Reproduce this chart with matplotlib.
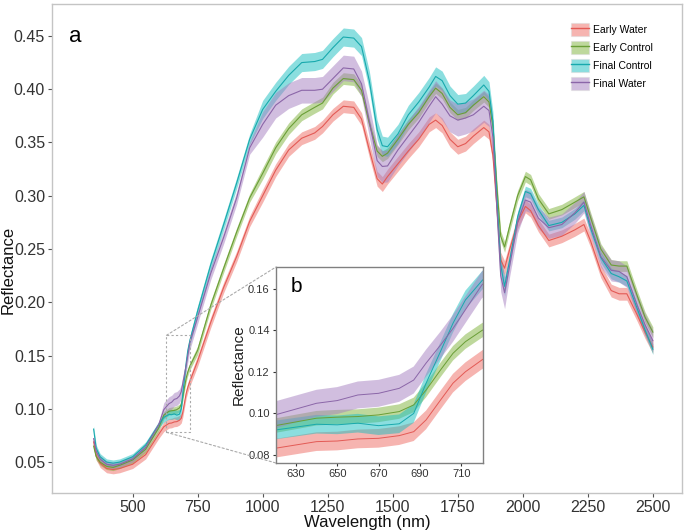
import matplotlib
matplotlib.use("Agg")
import matplotlib.pyplot as plt
from matplotlib import font_manager
from matplotlib.patches import Patch, Rectangle, ConnectionPatch
from matplotlib.lines import Line2D

plt.rcParams['font.family'] = ['Liberation Sans', 'DejaVu Sans']

wavelength = [350, 360, 375, 400, 425, 450, 500, 550, 600, 620, 640, 650, 660, 670, 680, 687, 693, 700,
              706, 712, 720, 750, 800, 850, 900, 950, 1000, 1050, 1100, 1150, 1200, 1230, 1270, 1310,
              1350, 1380, 1410, 1440, 1460, 1480, 1520, 1560, 1600, 1640, 1665, 1690, 1720, 1750, 1780,
              1810, 1850, 1870, 1885, 1900, 1915, 1930, 1950, 1980, 2010, 2030, 2060, 2100, 2150, 2200,
              2235, 2260, 2300, 2340, 2370, 2400, 2440, 2470, 2500]

early_water = [0.069, 0.056, 0.049, 0.044, 0.043, 0.044, 0.048, 0.057, 0.076, 0.0832, 0.0864, 0.0867,
               0.0877, 0.088, 0.0893, 0.0912, 0.0969, 0.1065, 0.1146, 0.1201, 0.1258, 0.145, 0.181,
               0.214, 0.243, 0.276, 0.300, 0.324, 0.343, 0.354, 0.359, 0.365, 0.376, 0.384, 0.383,
               0.372, 0.343, 0.316, 0.311, 0.318, 0.330, 0.342, 0.353, 0.367, 0.371, 0.366, 0.353,
               0.346, 0.349, 0.356, 0.364, 0.360, 0.338, 0.290, 0.240, 0.232, 0.250, 0.275, 0.290,
               0.286, 0.272, 0.258, 0.262, 0.268, 0.273, 0.258, 0.229, 0.211, 0.208, 0.208, 0.188,
               0.172, 0.158]
early_control = [0.065, 0.055, 0.050, 0.046, 0.045, 0.047, 0.052, 0.062, 0.082, 0.0941, 0.0977, 0.0982,
                 0.0985, 0.0993, 0.1009, 0.1041, 0.1113, 0.121, 0.129, 0.1346, 0.140, 0.155, 0.197,
                 0.232, 0.266, 0.298, 0.321, 0.345, 0.363, 0.376, 0.383, 0.387, 0.401, 0.410, 0.409,
                 0.399, 0.368, 0.342, 0.337, 0.340, 0.353, 0.367, 0.378, 0.393, 0.401, 0.396, 0.383,
                 0.376, 0.378, 0.385, 0.393, 0.388, 0.365, 0.310, 0.262, 0.252, 0.272, 0.300, 0.318,
                 0.315, 0.297, 0.283, 0.287, 0.294, 0.299, 0.280, 0.250, 0.235, 0.234, 0.234, 0.206,
                 0.186, 0.172]
final_control = [0.081, 0.063, 0.055, 0.050, 0.049, 0.050, 0.055, 0.066, 0.085, 0.092, 0.0948, 0.0945,
                 0.0953, 0.0941, 0.095, 0.100, 0.1146, 0.130, 0.1435, 0.1547, 0.164, 0.192, 0.235,
                 0.273, 0.312, 0.353, 0.381, 0.398, 0.413, 0.425, 0.426, 0.428, 0.439, 0.449, 0.448,
                 0.440, 0.408, 0.362, 0.347, 0.346, 0.358, 0.376, 0.388, 0.402, 0.412, 0.408, 0.394,
                 0.386, 0.387, 0.394, 0.404, 0.398, 0.370, 0.300, 0.235, 0.215, 0.240, 0.280, 0.304,
                 0.302, 0.287, 0.272, 0.275, 0.283, 0.291, 0.270, 0.242, 0.227, 0.224, 0.220, 0.194,
                 0.174, 0.156]
final_water = [0.072, 0.060, 0.053, 0.048, 0.047, 0.048, 0.053, 0.064, 0.085, 0.0993, 0.1049, 0.1062,
               0.1089, 0.1097, 0.1121, 0.1161, 0.1243, 0.133, 0.141, 0.150, 0.162, 0.186, 0.227,
               0.261, 0.298, 0.345, 0.367, 0.385, 0.394, 0.399, 0.399, 0.400, 0.410, 0.420, 0.419,
               0.405, 0.370, 0.333, 0.3275, 0.328, 0.343, 0.356, 0.369, 0.384, 0.393, 0.386, 0.375,
               0.371, 0.373, 0.376, 0.384, 0.380, 0.355, 0.290, 0.225, 0.209, 0.235, 0.275, 0.296,
               0.294, 0.279, 0.270, 0.273, 0.284, 0.294, 0.273, 0.243, 0.230, 0.229, 0.224, 0.197,
               0.179, 0.164]

# half-widths of the shaded bands
err_early_water = [0.004] * 9 + [0.0045] * 12 + [0.005] * 5 + [0.006] * 10 + [0.007] * 20 + [0.006] * 17
err_early_control = [0.003] * 9 + [0.0035] * 12 + [0.004] * 5 + [0.0055] * 10 + [0.005] * 20 + [0.005] * 17
err_final_control = [0.003] * 9 + [0.0045] * 12 + [0.005] * 5 + [0.0085] * 10 + [0.009] * 20 + [0.005] * 17
err_final_water = [0.003] * 9 + [0.0065] * 12 + [0.006] * 5 + [0.012] * 10 + [0.015] * 20 + [0.010] * 17

labels = ["Early Water", "Early Control", "Final Control", "Final Water"]
series = [early_water, early_control, final_control, final_water]
errors = [err_early_water, err_early_control, err_final_control, err_final_water]
fill_colors = ["#EE6A62", "#7FB23A", "#19BFC0", "#A57FC0"]
line_colors = ["#E35A55", "#6A9E36", "#18A9AD", "#8B66A8"]

xticks_main = [500, 750, 1000, 1250, 1500, 1750, 2000, 2250, 2500]
yticks_main = [0.05, 0.10, 0.15, 0.20, 0.25, 0.30, 0.35, 0.40, 0.45]
xticks_inset = [630, 650, 670, 690, 710]
yticks_inset = [0.08, 0.10, 0.12, 0.14, 0.16]

installed = {f.name for f in font_manager.fontManager.ttflist}
narrow = ['Liberation Sans Narrow', 'Liberation Sans', 'DejaVu Sans'] if 'Liberation Sans Narrow' in installed \
    else ['Liberation Sans', 'DejaVu Sans']

W, H = 685, 532
fig = plt.figure(figsize=(6.85, 5.32), dpi=100)
ax = fig.add_axes([0.0759, 0.0733, 0.9197, 0.9192])


def draw(a, lw):
    for y, e, fc, lc in zip(series, errors, fill_colors, line_colors):
        lo = [v - d for v, d in zip(y, e)]
        hi = [v + d for v, d in zip(y, e)]
        a.fill_between(wavelength, lo, hi, color=fc, alpha=0.5, linewidth=0)
        a.plot(wavelength, y, color=lc, lw=lw)


draw(ax, 0.8)
ax.set_xlim(190, 2612)
ax.set_ylim(0.021, 0.48)
ax.set_xticks(xticks_main)
ax.set_yticks(yticks_main)
ax.set_yticklabels([f"{v:.2f}" for v in yticks_main])
for s in ax.spines.values():
    s.set_color("#C4C4C4")
    s.set_linewidth(1.0)
ax.tick_params(axis='both', length=3, width=0.8, color="#555555", labelcolor="#333333",
               labelsize=11.5, pad=2)
ax.set_xlabel("Wavelength (nm)", fontsize=12, labelpad=0, color="#111111")
fig.text(8 / W, 1 - 270 / H, "Reflectance", rotation=90, fontsize=12, color="#111111",
         ha="center", va="center")
ax.text(0.027, 0.955, "a", transform=ax.transAxes, fontsize=16, va="top", ha="left")

# legend
handles = [(Patch(facecolor=fc, alpha=0.5, edgecolor="#D9D9D9", linewidth=0.8),
            Line2D([], [], color=lc, lw=1.0))
           for fc, lc in zip(fill_colors, line_colors)]
leg = ax.legend(handles, labels, loc="upper left", bbox_to_anchor=(0.818, 0.97), frameon=False,
                fontsize=7.5, handlelength=1.7, handleheight=1.6, labelspacing=0.45,
                handletextpad=0.4, borderaxespad=0)

# inset
axin = fig.add_axes([0.4029, 0.1297, 0.3022, 0.3684])
draw(axin, 0.7)
axin.set_xlim(620.4, 720.5)
axin.set_ylim(0.0761, 0.1706)
axin.set_xticks(xticks_inset)
axin.set_yticks(yticks_inset)
axin.set_yticklabels([f"{v:.2f}" for v in yticks_inset])
for s in axin.spines.values():
    s.set_color("#808080")
    s.set_linewidth(1.0)
axin.tick_params(axis='both', length=2.5, width=0.8, color="#333333", labelcolor="#333333",
                 labelsize=8, pad=2)
for t in axin.get_xticklabels() + axin.get_yticklabels():
    t.set_family(narrow)
axin.set_ylabel("Reflectance", fontsize=11, labelpad=2, color="#222222")
axin.text(0.07, 0.95, "b", transform=axin.transAxes, fontsize=15, va="top", ha="left")

# zoom rectangle and connectors
rx0, rx1, ry0, ry1 = 630, 722, 0.078, 0.169
ax.add_patch(Rectangle((rx0, ry0), rx1 - rx0, ry1 - ry0, fill=False, ls=(0, (2, 2)),
                       ec="#AAAAAA", lw=0.8, zorder=5))
for (px, py), (qx, qy) in [((rx0, ry1), (0, 1)), ((rx0, ry0), (0, 0))]:
    cp = ConnectionPatch(xyA=(px, py), coordsA=ax.transData, xyB=(qx, qy), coordsB=axin.transAxes,
                         ls=(0, (2, 2)), color="#AAAAAA", lw=0.8)
    fig.add_artist(cp)

fig.savefig("out.png", dpi=100)
